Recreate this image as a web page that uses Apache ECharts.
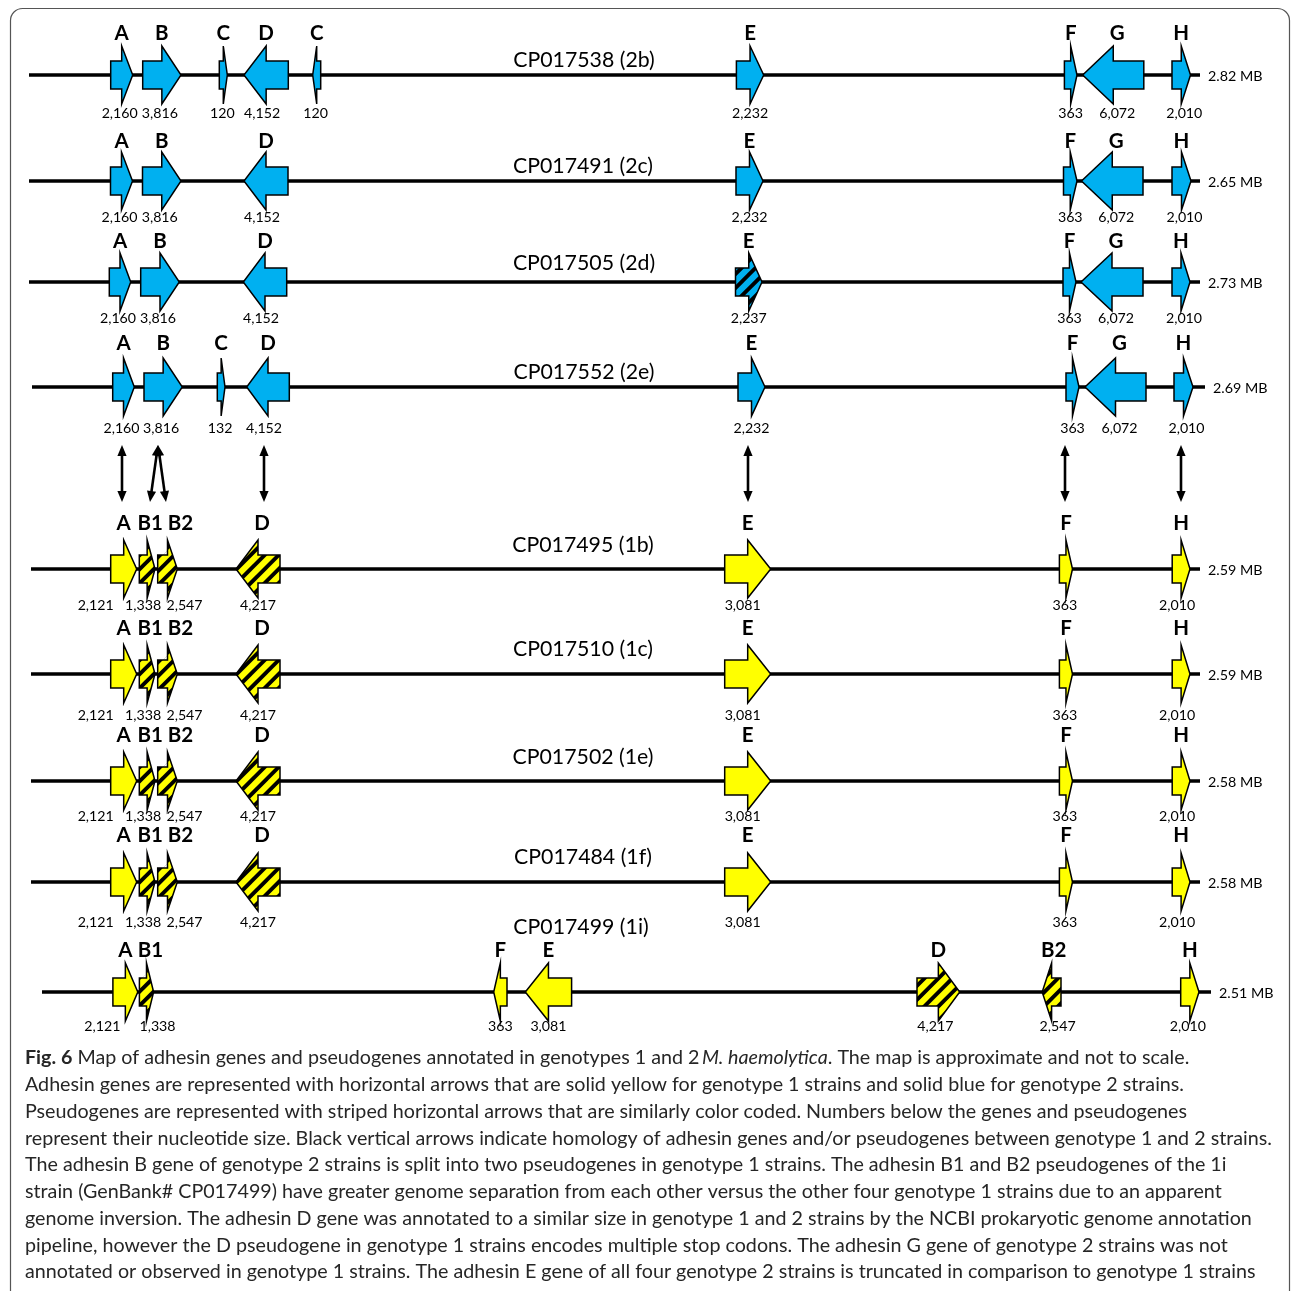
<!DOCTYPE html>
<html>
<head>
<meta charset="utf-8">
<title>Adhesin gene map</title>
<script src="https://cdn.jsdelivr.net/npm/echarts@6/dist/echarts.min.js"></script>
<style>
  html, body { margin: 0; padding: 0; background: #fff; }
  #chart { width: 1292px; height: 1291px; }
</style>
</head>
<body>
<div id="chart"></div>
<script>
// ---------------------------------------------------------------------------
// Data: strains, genome sizes and adhesin loci (map positions are approximate)
// ---------------------------------------------------------------------------
const strains = ['CP017538 (2b)', 'CP017491 (2c)', 'CP017505 (2d)', 'CP017552 (2e)',
                 'CP017495 (1b)', 'CP017510 (1c)', 'CP017502 (1e)', 'CP017484 (1f)', 'CP017499 (1i)'];
const genotypes = [2, 2, 2, 2, 1, 1, 1, 1, 1];
const genomeSizes = ['2.82 MB', '2.65 MB', '2.73 MB', '2.69 MB',
                     '2.59 MB', '2.59 MB', '2.58 MB', '2.58 MB', '2.51 MB'];
// chromosome segment drawn for each strain (map units)
const backboneFrom = [29, 29, 29, 32, 31, 31, 31, 31, 42];
const backboneTo = [1200, 1200, 1200, 1205, 1200, 1200, 1200, 1200, 1211];

// gene: [name, map start, map end, strand (1 forward / -1 reverse), size (nt), pseudogene 0/1]
const genes2b = [
  ['A', 110.7, 132.7, 1, 2160, 0], ['B', 142.7, 181, 1, 3816, 0], ['C', 219.3, 227.3, 1, 120, 0],
  ['D', 244, 288.3, -1, 4152, 0], ['C', 312.7, 320.7, -1, 120, 0], ['E', 736.4, 763.7, 1, 2232, 0],
  ['F', 1064.4, 1077, 1, 363, 0], ['G', 1082.7, 1143.8, -1, 6072, 0], ['H', 1172, 1190.5, 1, 2010, 0]
];
const genes2c = [
  ['A', 110.5, 132.5, 1, 2160, 0], ['B', 142.5, 181, 1, 3816, 0], ['D', 244, 288, -1, 4152, 0],
  ['E', 736, 763, 1, 2232, 0], ['F', 1063.5, 1077, 1, 363, 0], ['G', 1081.5, 1143, -1, 6072, 0],
  ['H', 1172, 1191, 1, 2010, 0]
];
const genes2d = [
  ['A', 109.3, 130.7, 1, 2160, 0], ['B', 140.7, 179.3, 1, 3816, 0], ['D', 243.3, 286.7, -1, 4152, 0],
  ['E', 735.5, 762, 1, 2237, 1], ['F', 1063, 1076, 1, 363, 0], ['G', 1081, 1143, -1, 6072, 0],
  ['H', 1172, 1190, 1, 2010, 0]
];
const genes2e = [
  ['A', 112.7, 134.3, 1, 2160, 0], ['B', 144, 182.3, 1, 3816, 0], ['C', 217.3, 225, 1, 132, 0],
  ['D', 246.7, 289.3, -1, 4152, 0], ['E', 738, 765, 1, 2232, 0], ['F', 1066, 1079, 1, 363, 0],
  ['G', 1085, 1146, -1, 6072, 0], ['H', 1174, 1193, 1, 2010, 0]
];
const genes1b = [
  ['A', 110.7, 136.7, 1, 2121, 0], ['B1', 139.3, 155, 1, 1338, 1], ['B2', 157.7, 177.3, 1, 2547, 1],
  ['D', 236, 280, -1, 4217, 1], ['E', 724.7, 770.7, 1, 3081, 0], ['F', 1059.4, 1072.5, 1, 363, 0],
  ['H', 1172.2, 1190, 1, 2010, 0]
];
const genes1c = genes1b.map(g => g.slice());
const genes1e = genes1b.map(g => g.slice());
const genes1f = genes1b.map(g => g.slice());
const genes1i = [
  ['A', 112.9, 137.8, 1, 2121, 0], ['B1', 139.4, 153.6, 1, 1338, 1], ['F', 493.7, 507, -1, 363, 0],
  ['E', 525.3, 571.6, -1, 3081, 0], ['D', 917, 959.7, 1, 4217, 1], ['B2', 1042.2, 1061, -1, 2547, 1],
  ['H', 1180.7, 1199, 1, 2010, 0]
];
const geneTables = [genes2b, genes2c, genes2d, genes2e, genes1b, genes1c, genes1e, genes1f, genes1i];

// homology links from CP017552 (2e) down to CP017495 (1b): map position on each track
const homologyUpper = [122, 158, 158, 264, 748, 1065, 1181];
const homologyLower = [122, 150, 166, 264, 748, 1065, 1181];

const captionLines = [
  '{b|Fig. 6} Map of adhesin genes and pseudogenes annotated in genotypes 1 and 2\u2009{i|M. haemolytica}. The map is approximate and not to scale.',
  'Adhesin genes are represented with horizontal arrows that are solid yellow for genotype 1 strains and solid blue for genotype 2 strains.',
  'Pseudogenes are represented with striped horizontal arrows that are similarly color coded. Numbers below the genes and pseudogenes',
  'represent their nucleotide size. Black vertical arrows indicate homology of adhesin genes and/or pseudogenes between genotype 1 and 2 strains.',
  'The adhesin B gene of genotype 2 strains is split into two pseudogenes in genotype 1 strains. The adhesin B1 and B2 pseudogenes of the 1i',
  'strain (GenBank# CP017499) have greater genome separation from each other versus the other four genotype 1 strains due to an apparent',
  'genome inversion. The adhesin D gene was annotated to a similar size in genotype 1 and 2 strains by the NCBI prokaryotic genome annotation',
  'pipeline, however the D pseudogene in genotype 1 strains encodes multiple stop codons. The adhesin G gene of genotype 2 strains was not',
  'annotated or observed in genotype 1 strains. The adhesin E gene of all four genotype 2 strains is truncated in comparison to genotype 1 strains'
];

// ---------------------------------------------------------------------------
// Layout and styling
// ---------------------------------------------------------------------------
const TRACK_Y = [75, 181, 282, 387, 569, 674, 781, 882, 992];
const TITLE_DY = [-15, -15, -19, -15, -24, -25, -24, -25, -65];
const LETTER_DY = [-42, -40, -41, -44, -46, -46, -46, -47, -42];
const SIZE_DY = [38, 36, 36, 41, 36, 41, 35, 40, 34];
const TITLE_X = [584, 583, 584, 584, 583, 583, 583, 583, 581];
const SIZE_NUDGE = {
  g2: { A: -2, B: -2, C: -1, D: -4, G: 4, H: 3 },
  g1: { A: -28, B1: -4, B2: 17, E: -5, F: -1, H: -4 },
  inv: { A: -23, B1: 11, D: -3, B2: 6, H: -2 }
};
const LETTER_NUDGE = {
  g2: { G: 4 },
  g1: { B1: 3, B2: 13, D: 4 },
  inv: { B1: 4, B2: 2 }
};
const BLUE = '#00B0F0';
const YELLOW = '#FFFF00';
const FONT = 'Lato, "Open Sans", sans-serif';
const BODY_HALF = 14;
const HEAD_HALF = 29;
const HEAD_RATIO = 0.5;
const STRIPE_PERIOD = 14;
const STRIPE_WIDTH = 5.5;

const geneRecords = [];
geneTables.forEach((tbl, t) => tbl.forEach(g => geneRecords.push({
  t, name: g[0], start: g[1], end: g[2], dir: g[3], nt: g[4], pseudo: g[5]
})));

function layoutGroup(t) {
  if (t === 8) return 'inv';
  return genotypes[t] === 2 ? 'g2' : 'g1';
}

function arrowPoints(x0, x1, yc, dir) {
  const head = (x1 - x0) * HEAD_RATIO;
  if (dir > 0) {
    const hb = x1 - head;
    return [[x0, yc - BODY_HALF], [hb, yc - BODY_HALF], [hb, yc - HEAD_HALF], [x1, yc],
            [hb, yc + HEAD_HALF], [hb, yc + BODY_HALF], [x0, yc + BODY_HALF]];
  }
  const hb = x0 + head;
  return [[x1, yc - BODY_HALF], [hb, yc - BODY_HALF], [hb, yc - HEAD_HALF], [x0, yc],
          [hb, yc + HEAD_HALF], [hb, yc + BODY_HALF], [x1, yc + BODY_HALF]];
}

// keep the part of a polygon where nx*x + ny*y <= c
function clipHalfPlane(poly, nx, ny, c) {
  const out = [];
  for (let i = 0; i < poly.length; i++) {
    const a = poly[i], b = poly[(i + 1) % poly.length];
    const da = nx * a[0] + ny * a[1] - c;
    const db = nx * b[0] + ny * b[1] - c;
    if (da <= 0) out.push(a);
    if ((da < 0 && db > 0) || (da > 0 && db < 0)) {
      const k = da / (da - db);
      out.push([a[0] + k * (b[0] - a[0]), a[1] + k * (b[1] - a[1])]);
    }
  }
  return out;
}

// diagonal stripes ("/") clipped to the arrow outline
function stripeBands(poly) {
  let lo = Infinity, hi = -Infinity;
  poly.forEach(p => { const s = p[0] + p[1]; lo = Math.min(lo, s); hi = Math.max(hi, s); });
  const bands = [];
  for (let c = lo + 5; c < hi; c += STRIPE_PERIOD) {
    let band = clipHalfPlane(poly, 1, 1, c + STRIPE_WIDTH);
    band = clipHalfPlane(band, -1, -1, -c);
    if (band.length >= 3) bands.push(band);
  }
  return bands;
}

function renderGene(params, api) {
  const r = geneRecords[params.dataIndex];
  const p0 = api.coord([api.value(0), api.value(2)]);
  const p1 = api.coord([api.value(1), api.value(2)]);
  const yc = p0[1];
  const poly = arrowPoints(p0[0], p1[0], yc, r.dir);
  const fill = genotypes[r.t] === 2 ? BLUE : YELLOW;
  const grp = layoutGroup(r.t);
  const cx = (p0[0] + p1[0]) / 2;
  const children = [{
    type: 'polygon', shape: { points: poly },
    style: { fill: fill, stroke: null }
  }];
  if (r.pseudo) {
    stripeBands(poly).forEach(b => children.push({
      type: 'polygon', shape: { points: b }, style: { fill: '#000', stroke: null }
    }));
  }
  children.push({
    type: 'polygon', shape: { points: poly },
    style: { fill: null, stroke: '#000', lineWidth: 1.5, lineJoin: 'miter' }
  });
  children.push({
    type: 'text',
    style: {
      text: r.name, x: cx + (LETTER_NUDGE[grp][r.name] || 0), y: yc + LETTER_DY[r.t],
      align: 'center', verticalAlign: 'middle',
      fontFamily: FONT, fontWeight: 'bold', fontSize: 20.5, fill: '#000'
    }
  });
  children.push({
    type: 'text',
    style: {
      text: r.nt.toLocaleString('en-US'), x: cx + (SIZE_NUDGE[grp][r.name] || 0), y: yc + SIZE_DY[r.t],
      align: 'center', verticalAlign: 'middle',
      fontFamily: FONT, fontSize: 14.2, fill: '#000'
    }
  });
  return { type: 'group', children };
}

function renderTrack(params, api) {
  const t = params.dataIndex;
  const a = api.coord([api.value(0), api.value(2)]);
  const b = api.coord([api.value(1), api.value(2)]);
  const mid = api.coord([TITLE_X[t], api.value(2)]);
  return {
    type: 'group',
    children: [
      { type: 'line', shape: { x1: a[0], y1: a[1], x2: b[0], y2: b[1] },
        style: { stroke: '#000', lineWidth: 3.4 } },
      { type: 'text', style: {
          text: genomeSizes[t], x: b[0] + 8, y: b[1] + 1, align: 'left', verticalAlign: 'middle',
          fontFamily: FONT, fontSize: 14.3, fill: '#000' } },
      { type: 'text', style: {
          text: strains[t], x: mid[0], y: mid[1] + TITLE_DY[t], align: 'center', verticalAlign: 'middle',
          fontFamily: FONT, fontSize: 21.3, fill: '#000' } }
    ]
  };
}

function arrowHead(tip, dx, dy) {
  // dx,dy: unit vector pointing toward the tip
  const L = 11, W = 4.6;
  const bx = tip[0] - dx * L, by = tip[1] - dy * L;
  return {
    type: 'polygon',
    shape: { points: [[tip[0], tip[1]], [bx - dy * W, by + dx * W], [bx + dy * W, by - dx * W]] },
    style: { fill: '#000', stroke: null }
  };
}

function renderLink(params, api) {
  const top = api.coord([api.value(0), TRACK_Y[3]]);
  const bot = api.coord([api.value(1), TRACK_Y[4]]);
  const p = [top[0], top[1] + 58], q = [bot[0], bot[1] - 67];
  const len = Math.hypot(q[0] - p[0], q[1] - p[1]);
  const ux = (q[0] - p[0]) / len, uy = (q[1] - p[1]) / len;
  return {
    type: 'group',
    children: [
      { type: 'line', shape: { x1: p[0] + ux * 8, y1: p[1] + uy * 8, x2: q[0] - ux * 8, y2: q[1] - uy * 8 },
        style: { stroke: '#000', lineWidth: 2.6 } },
      arrowHead(p, -ux, -uy),
      arrowHead(q, ux, uy)
    ]
  };
}

const chart = echarts.init(document.getElementById('chart'), null, { renderer: 'canvas' });

const CAPTION_SIZE = 19.7;
const captionGraphics = captionLines.map((line, i) => ({
  type: 'text',
  x: 25, y: 1058 + i * 26.75,
  style: {
    text: line, align: 'left', verticalAlign: 'middle',
    fontFamily: FONT, fontSize: CAPTION_SIZE, fill: '#262626',
    rich: {
      b: { fontFamily: FONT, fontSize: CAPTION_SIZE, fontWeight: 'bold', fill: '#262626' },
      i: { fontFamily: FONT, fontSize: CAPTION_SIZE, fontStyle: 'italic', fill: '#262626' }
    }
  }
}));

chart.setOption({
  animation: false,
  backgroundColor: '#fff',
  grid: { left: 0, right: 0, top: 0, bottom: 0 },
  xAxis: { type: 'value', min: 0, max: 1292, show: false },
  yAxis: { type: 'value', min: 0, max: 1291, inverse: true, show: false },
  graphic: [
    { type: 'rect', shape: { x: 10.5, y: 8.5, width: 1279, height: 1320, r: 12 },
      style: { fill: null, stroke: '#555', lineWidth: 1.2 }, z: 0 }
  ].concat(captionGraphics),
  series: [
    {
      type: 'custom', name: 'chromosomes', clip: false, z: 2,
      data: strains.map((s, t) => [backboneFrom[t], backboneTo[t], TRACK_Y[t]]),
      encode: { x: [0, 1], y: 2 },
      renderItem: renderTrack
    },
    {
      type: 'custom', name: 'homology', clip: false, z: 3,
      data: homologyUpper.map((u, i) => [u, homologyLower[i]]),
      encode: { x: [0, 1] },
      renderItem: renderLink
    },
    {
      type: 'custom', name: 'adhesin genes', clip: false, z: 4,
      data: geneRecords.map(r => [r.start, r.end, TRACK_Y[r.t]]),
      encode: { x: [0, 1], y: 2 },
      renderItem: renderGene
    }
  ]
});
</script>
</body>
</html>
